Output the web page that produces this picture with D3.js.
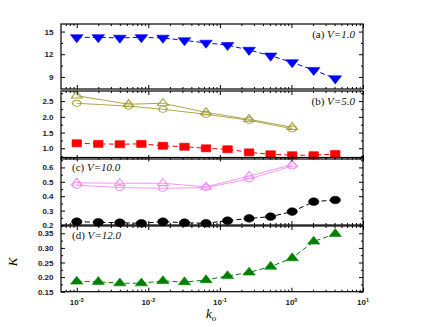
<!DOCTYPE html>
<html>
<head>
<meta charset="utf-8">
<script src="https://cdn.jsdelivr.net/npm/d3@7"></script>
<style>
  body { margin: 0; background: #fff; }
  svg { display: block; }
</style>
</head>
<body>
<div id="chart"></div>
<script>
// k_o values (x) for the filled series and for the open series
var kFull = [0.001, 0.002, 0.004, 0.008, 0.016, 0.032, 0.064, 0.128, 0.256, 0.512, 1.024, 2.048, 4.096];
var kOpenB = [0.001, 0.0053, 0.016, 0.064, 0.256, 1.024];
var kOpenC = [0.001, 0.004, 0.016, 0.064, 0.256, 1.024];

// (a) V=1.0
var kA_V1 = [14.23, 14.23, 14.16, 14.23, 14.16, 13.83, 13.5, 13.2, 12.56, 11.8, 10.92, 9.9, 8.79];
// (b) V=5.0
var kB_sq = [1.16, 1.14, 1.13, 1.14, 1.08, 1.05, 1.0, 0.97, 0.87, 0.81, 0.78, 0.78, 0.82];
var kB_tri = [2.67, 2.40, 2.43, 2.14, 1.92, 1.67];
var kB_circ = [2.43, 2.34, 2.24, 2.08, 1.89, 1.62];
// (c) V=10.0
var kC_dot = [0.223, 0.219, 0.216, 0.212, 0.223, 0.216, 0.212, 0.23, 0.246, 0.258, 0.293, 0.362, 0.374];
var kC_tri = [0.493, 0.49, 0.49, 0.465, 0.54, 0.62];
var kC_circ = [0.477, 0.46, 0.455, 0.46, 0.52, 0.61];
// (d) V=12.0
var kD_tri = [0.185, 0.184, 0.179, 0.179, 0.187, 0.183, 0.19, 0.204, 0.216, 0.236, 0.265, 0.322, 0.348];

var xTicks = [1e-3, 1e-2, 1e-1, 1, 10];
var xTickExp = ["-3", "-2", "-1", "0", "1"];

var width = 436, height = 327;
var svg = d3.select("#chart").append("svg")
    .attr("width", width).attr("height", height);

var x = d3.scaleLog().domain([Math.pow(10, -3.22), 10]).range([61, 363]);

var xMinor = [];
for (var e = -4; e <= 0; e++) {
    for (var m = 2; m <= 9; m++) {
        var v = m * Math.pow(10, e);
        if (v >= x.domain()[0] && v <= 10) xMinor.push(v);
    }
}

var OLIVE = "#a39f35", PINK = "#f38cf3";

var panels = [
    {top: 24, bottom: 89, domain: [7.4, 16], ticks: [9, 12, 15], minor: [10.5, 13.5], fmt: d3.format("d"),
     label: ["(a) ", "V=1.0"], labelSide: "right",
     series: [{k: kFull, v: kA_V1, shape: "tridown", color: "#0000ff", fill: true, dash: "5,3"}]},
    {top: 91, bottom: 159, domain: [0.66, 2.82], ticks: [1.0, 1.5, 2.0, 2.5], minor: [0.75, 1.25, 1.75, 2.25, 2.75], fmt: d3.format(".1f"),
     label: ["(b) ", "V=5.0"], labelSide: "right",
     series: [
        {k: kOpenB, v: kB_tri, shape: "tri", color: OLIVE, fill: false, dash: null},
        {k: kOpenB, v: kB_circ, shape: "circle", color: OLIVE, fill: false, dash: null},
        {k: kFull, v: kB_sq, shape: "square", color: "#ff0000", fill: true, dash: "5,3"}]},
    {top: 157.5, bottom: 225, domain: [0.2, 0.669], ticks: [0.2, 0.3, 0.4, 0.5, 0.6], minor: [0.25, 0.35, 0.45, 0.55, 0.65], fmt: d3.format(".1f"),
     label: ["(c) ", "V=10.0"], labelSide: "left",
     series: [
        {k: kOpenC, v: kC_tri, shape: "tri", color: PINK, fill: false, dash: null},
        {k: kOpenC, v: kC_circ, shape: "circle", color: PINK, fill: false, dash: null},
        {k: kFull, v: kC_dot, shape: "circle", color: "#000000", fill: true, dash: "5,3"}]},
    {top: 226, bottom: 291.7, domain: [0.15, 0.375], ticks: [0.15, 0.20, 0.25, 0.30, 0.35], minor: [0.175, 0.225, 0.275, 0.325, 0.375], fmt: d3.format(".2f"),
     label: ["(d) ", "V=12.0"], labelSide: "left",
     series: [{k: kFull, v: kD_tri, shape: "tri", color: "#008000", fill: true, dash: "5,3"}]}
];

var symbolFor = {
    tri: d3.symbol().type(d3.symbolTriangle),
    tridown: d3.symbol().type(d3.symbolTriangle),
    square: d3.symbol().type(d3.symbolSquare),
    circle: d3.symbol().type(d3.symbolCircle)
};

function styleAxis(g) {
    g.select(".domain").remove();
    g.selectAll(".tick line").attr("stroke", "#000").attr("stroke-width", 1);
    g.selectAll(".tick text")
        .style("font-family", "'Liberation Sans', Arial, sans-serif")
        .style("font-weight", "bold")
        .style("font-size", "8px")
        .attr("fill", "#222");
}

panels.forEach(function(p, idx) {
    var y = d3.scaleLinear().domain(p.domain).range([p.bottom, p.top]);
    var g = svg.append("g");

    // ---- series
    p.series.forEach(function(s) {
        var pts = s.k.map(function(k, i) { return [k, s.v[i]]; });
        var line = d3.line().x(function(d) { return x(d[0]); }).y(function(d) { return y(d[1]); });
        g.append("path")
            .attr("d", line(pts))
            .attr("fill", "none")
            .attr("stroke", s.color)
            .attr("stroke-width", s.fill ? 1 : 0.9)
            .attr("stroke-dasharray", s.dash);

        var size = s.fill ? {tri: 36, tridown: 38, square: 50, circle: 46}[s.shape]
                          : {tri: 28, circle: 30}[s.shape];
        g.selectAll(null)
            .data(pts)
            .enter()
            .append("path")
            .attr("d", symbolFor[s.shape].size(size)())
            .attr("transform", function(d) {
                var t = "translate(" + x(d[0]) + "," + y(d[1]) + ") scale(1.35,1)";
                if (s.shape == "tridown") t += " rotate(180)";
                return t;
            })
            .attr("fill", s.fill ? s.color : "#fff")
            .attr("fill-opacity", s.fill ? 1 : 0)
            .attr("stroke", s.color)
            .attr("stroke-width", s.fill ? 0.5 : 0.9);
    });

    // ---- y axes (left labelled, right mirrored), ticks inward
    g.append("g").attr("transform", "translate(" + x.range()[0] + ",0)")
        .call(d3.axisLeft(y).tickValues(p.ticks).tickSize(-4).tickPadding(7.5).tickFormat(p.fmt))
        .call(styleAxis);
    g.append("g").attr("transform", "translate(" + x.range()[0] + ",0)")
        .call(d3.axisLeft(y).tickValues(p.minor.filter(function(v) { return v <= p.domain[1]; })).tickSize(-2).tickFormat(""))
        .call(styleAxis);
    g.append("g").attr("transform", "translate(" + x.range()[1] + ",0)")
        .call(d3.axisRight(y).tickValues(p.ticks).tickSize(-4).tickFormat(""))
        .call(styleAxis);
    g.append("g").attr("transform", "translate(" + x.range()[1] + ",0)")
        .call(d3.axisRight(y).tickValues(p.minor.filter(function(v) { return v <= p.domain[1]; })).tickSize(-2).tickFormat(""))
        .call(styleAxis);

    // ---- x ticks top and bottom, inward
    [["top", p.top, d3.axisTop], ["bottom", p.bottom, d3.axisBottom]].forEach(function(a) {
        g.append("g").attr("transform", "translate(0," + a[1] + ")")
            .call(a[2](x).tickValues(xTicks).tickSize(-4).tickFormat(""))
            .call(styleAxis);
        g.append("g").attr("transform", "translate(0," + a[1] + ")")
            .call(a[2](x).tickValues(xMinor).tickSize(-2).tickFormat(""))
            .call(styleAxis);
    });

    // ---- frame
    g.append("rect")
        .attr("x", x.range()[0]).attr("y", p.top)
        .attr("width", x.range()[1] - x.range()[0]).attr("height", p.bottom - p.top)
        .attr("fill", "none").attr("stroke", "#000").attr("stroke-width", 1.2);

    // ---- panel label
    var lbl = g.append("text")
        .attr("x", p.labelSide == "right" ? 355 : 72)
        .attr("y", p.labelSide == "right" ? p.top + 14 : p.top + 13)
        .attr("text-anchor", p.labelSide == "right" ? "end" : "start")
        .style("font-family", "'Liberation Serif', 'Times New Roman', serif")
        .style("font-size", "11px")
        .attr("fill", "#111");
    lbl.append("tspan").text(p.label[0]);
    lbl.append("tspan").style("font-style", "italic").text(p.label[1]);
});

// ---- x tick labels under the last panel
var xl = svg.append("g");
xTicks.forEach(function(t, i) {
    var txt = xl.append("text")
        .attr("x", x(t))
        .attr("y", 305)
        .attr("text-anchor", "middle")
        .style("font-family", "'Liberation Sans', Arial, sans-serif")
        .style("font-weight", "bold")
        .style("font-size", "8px")
        .attr("fill", "#222");
    txt.append("tspan").text("10");
    txt.append("tspan").attr("dy", -3).style("font-size", "5.5px").text(xTickExp[i]);
});

// ---- axis titles
var xt = svg.append("text")
    .attr("x", 206).attr("y", 318)
    .style("font-family", "'Liberation Serif', 'Times New Roman', serif")
    .style("font-style", "italic")
    .style("font-size", "13px");
xt.append("tspan").text("k");
xt.append("tspan").attr("dy", 3).style("font-size", "9px").text("o");

svg.append("text")
    .attr("transform", "translate(17,262) rotate(-90)")
    .attr("text-anchor", "middle")
    .style("font-family", "'Liberation Serif', 'Times New Roman', serif")
    .style("font-style", "italic")
    .style("font-size", "13px")
    .text("K");
</script>
</body>
</html>
